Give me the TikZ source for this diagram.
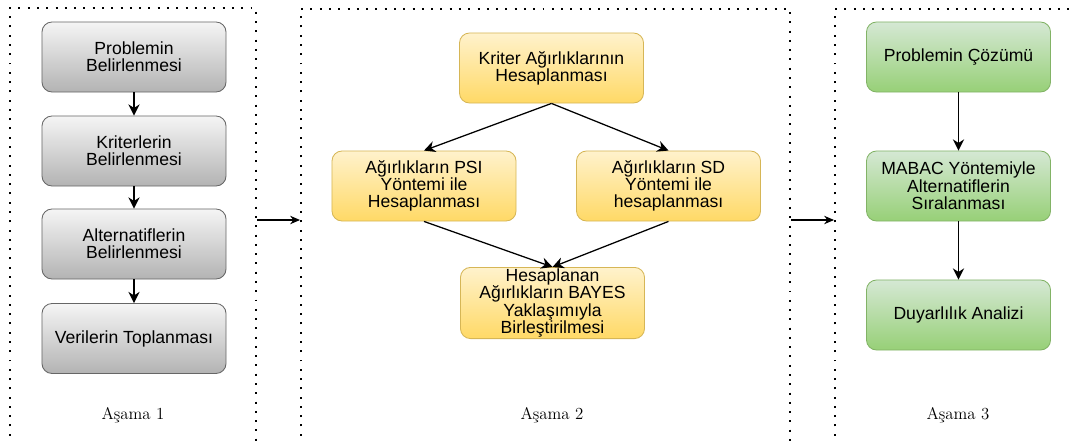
\documentclass[tikz,border=0pt]{standalone}
\usepackage{fontspec}
\setsansfont{Liberation Sans}
\usetikzlibrary{arrows.meta}
\definecolor{grayTop}{HTML}{F5F5F5}
\definecolor{grayBot}{HTML}{B3B3B3}
\definecolor{grayLine}{HTML}{666666}
\definecolor{yelTop}{HTML}{FFF2CC}
\definecolor{yelBot}{HTML}{FFD966}
\definecolor{yelLine}{HTML}{D6B656}
\definecolor{grnTop}{HTML}{D5E8D4}
\definecolor{grnBot}{HTML}{97D077}
\definecolor{grnLine}{HTML}{82B366}
\begin{document}
\begin{tikzpicture}
          [x=0.025cm,y=-0.025cm,
           box/.style={rectangle, rounded corners=0.25cm, minimum width=4.6cm, minimum height=1.75cm,
             align=center, font=\sffamily\fontsize{12.5}{12.3}\selectfont, line width=0.6pt, inner sep=1pt},
           graybox/.style={box, draw=grayLine, top color=grayTop, bottom color=grayBot},
           yelbox/.style={box, draw=yelLine, top color=yelTop, bottom color=yelBot},
           grnbox/.style={box, draw=grnLine, top color=grnTop, bottom color=grnBot},
           panel/.style={line width=1.4pt, dash pattern=on 1.4pt off 5.2pt},
           stage/.style={font=\fontsize{12}{14}\selectfont}]
        \useasboundingbox (0,0) rectangle (1071,441);

        % panels
        \draw[panel] (10,445) -- (10,8) -- (256,8) -- (256,445);
        \draw[panel] (301,445) -- (301,9) -- (790,9) -- (790,445);
        \draw[panel] (835,445) -- (835,9) -- (1075,9);

        \coordinate (p1e) at (257,220);
        \coordinate (p2w) at (300,220);
        \coordinate (p2e) at (791,220);
        \coordinate (p3w) at (834,220);

        % asama 1
        \node[graybox] (pb) at (134,57) {Problemin\\Belirlenmesi};
        \node[graybox] (kb) at (134,151) {Kriterlerin\\Belirlenmesi};
        \node[graybox] (ab) at (134,244) {Alternatiflerin\\Belirlenmesi};
        \node[graybox] (vt) at (134,338.5) {Verilerin Toplanması};

        % asama 2
        \node[yelbox] (kah) at (551.5,68) {Kriter Ağırlıklarının\\Hesaplanması};
        \node[yelbox] (psi) at (424,186) {Ağırlıkların PSI\\Yöntemi ile\\Hesaplanması};
        \node[yelbox] (sd) at (668.5,186) {Ağırlıkların SD\\Yöntemi ile\\hesaplanması};
        \node[yelbox] (bay) at (552.5,303) {Hesaplanan\\Ağırlıkların BAYES\\Yaklaşımıyla\\Birleştirilmesi};

        % asama 3
        \node[grnbox] (pc) at (958.5,57) {Problemin Çözümü};
        \node[grnbox] (mab) at (958.5,186) {MABAC Yöntemiyle\\Alternatiflerin\\Sıralanması};
        \node[grnbox] (da) at (958.5,315) {Duyarlılık Analizi};

        \node[stage] (s1) at (133,415) {Aşama 1};
        \node[stage] (s2) at (552,415) {Aşama 2};
        \node[stage] (s3) at (958,415) {Aşama 3};

        \foreach \from/\to in {pb/kb, kb/ab, ab/vt, pc/mab, mab/da}
          \draw[line width=0.9pt] (\from) edge[-{Stealth[length=8pt,width=8pt]}] (\to);

        \foreach \from/\to in {kah/psi, kah/sd, psi/bay, sd/bay}
          \draw[line width=0.9pt] (\from.south) edge[-{Stealth[length=8pt,width=8pt]}] (\to.north);

        \foreach \from/\to in {p1e/p2w, p2e/p3w}
          \draw[line width=0.8pt] (\from) edge[-{Stealth[length=7pt,width=6pt]}] (\to);
      \end{tikzpicture}
\end{document}
